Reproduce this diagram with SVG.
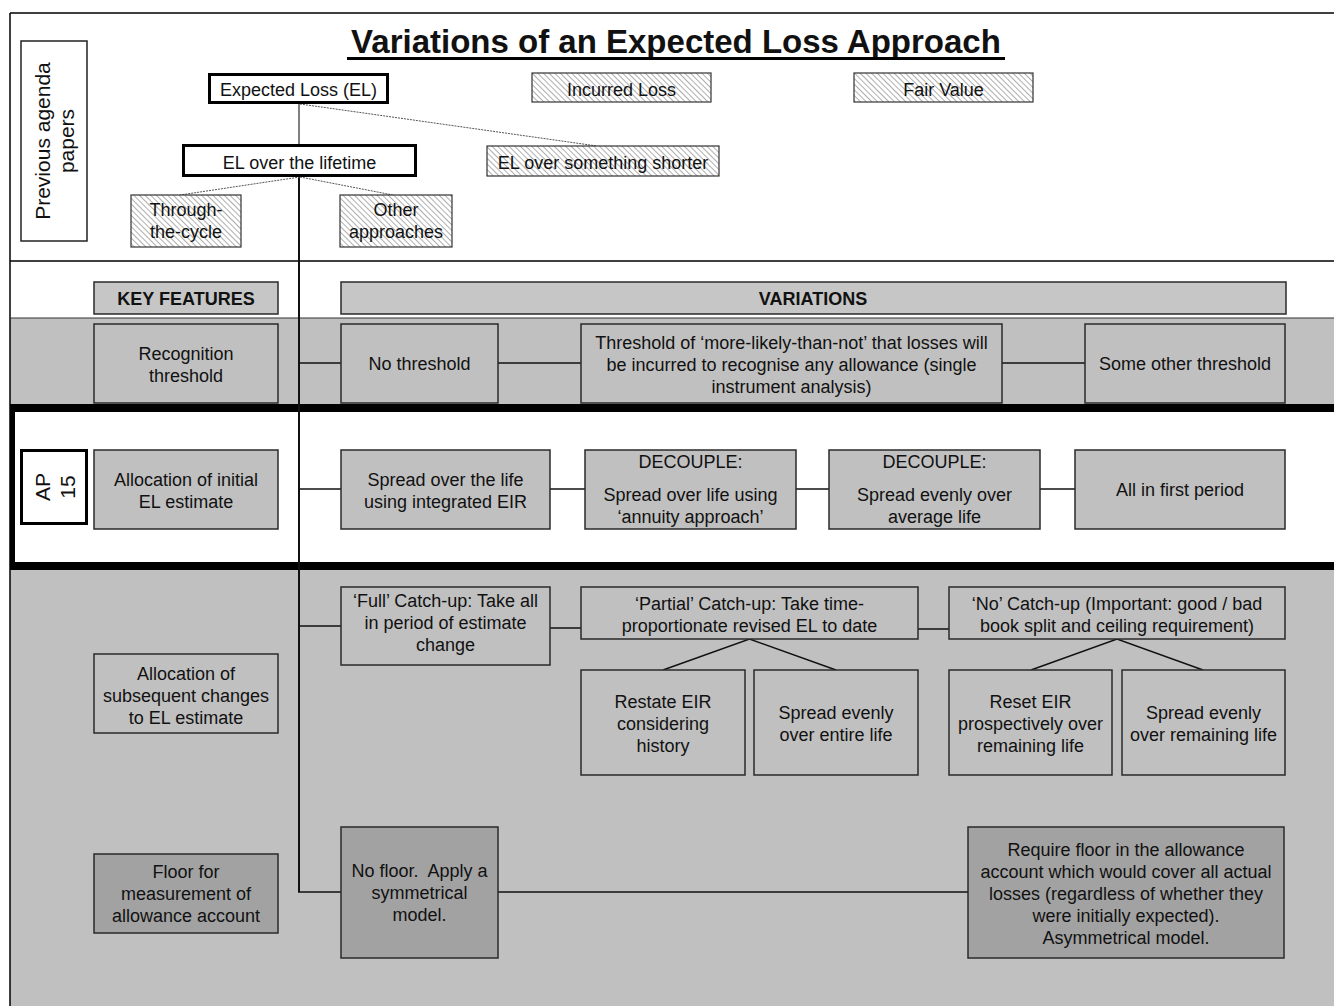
<svg xmlns="http://www.w3.org/2000/svg" width="1334" height="1006" viewBox="0 0 1334 1006">
<style>
text{font-family:"Liberation Sans",Arial,sans-serif;font-size:18px;fill:#111;text-anchor:middle}
.title{font-size:33px;font-weight:bold}
.bold{font-weight:bold}
.rot{font-size:21px}
.box{fill:#c0c0c0;stroke:#2a2a2a;stroke-width:1.5}
.hdr{fill:#c6c6c6;stroke:#2a2a2a;stroke-width:1.5}
.dark{fill:#a2a2a2;stroke:#2a2a2a;stroke-width:1.5}
.thick{fill:#fff;stroke:#000;stroke-width:3}
.plain{fill:#fff;stroke:#222;stroke-width:1.5}
.hatch{fill:url(#hatch);stroke:#333;stroke-width:1.2}
.conn{stroke:#111;stroke-width:1.5;fill:none}
.dot{stroke:#555;stroke-width:1;stroke-dasharray:2 1;fill:none}
</style>
<defs>
<pattern id="hatch" width="4" height="4" patternUnits="userSpaceOnUse" patternTransform="rotate(-45)">
<rect width="4" height="4" fill="#fff"/>
<line x1="0" y1="0" x2="0" y2="4" stroke="#9a9a9a" stroke-width="1.6"/>
</pattern>
</defs>

<!-- backgrounds -->
<rect x="0" y="0" width="1334" height="1006" fill="#fff"/>
<rect x="10" y="318" width="1324" height="86" fill="#c0c0c0"/>
<rect x="10" y="570" width="1324" height="436" fill="#c0c0c0"/>
<line x1="10" y1="13" x2="1334" y2="13" stroke="#000" stroke-width="1.5"/>
<line x1="10" y1="13" x2="10" y2="1006" stroke="#000" stroke-width="1.5"/>
<line x1="10" y1="261" x2="1334" y2="261" stroke="#000" stroke-width="1.5"/>
<line x1="10" y1="318" x2="1334" y2="318" stroke="#333" stroke-width="1.2"/>
<rect x="10" y="404" width="1324" height="8" fill="#000"/>
<rect x="10" y="562" width="1324" height="8" fill="#000"/>
<rect x="10" y="404" width="5" height="166" fill="#000"/>

<!-- title -->
<text class="title" x="676" y="53">Variations of an Expected Loss Approach</text>
<line x1="347" y1="58.5" x2="1005" y2="58.5" stroke="#000" stroke-width="3"/>

<!-- connectors -->
<g id="connectors">
<line class="conn" x1="299" y1="104" x2="299" y2="145" style="stroke:#555"/>
<line class="conn" x1="299" y1="177" x2="299" y2="892" style="stroke-width:2"/>
<line class="conn" x1="298" y1="892" x2="341" y2="892"/>
<path class="dot" d="M300 104 L597 146"/>
<path class="dot" d="M300 177 L180 195"/>
<path class="dot" d="M300 177 L393 195"/>
<line class="conn" x1="299" y1="363" x2="341" y2="363"/>
<line class="conn" x1="498" y1="363" x2="581" y2="363"/>
<line class="conn" x1="1002" y1="363" x2="1085" y2="363"/>
<line class="conn" x1="299" y1="489" x2="341" y2="489"/>
<line class="conn" x1="550" y1="489" x2="585" y2="489"/>
<line class="conn" x1="796" y1="489" x2="829" y2="489"/>
<line class="conn" x1="1040" y1="489" x2="1075" y2="489"/>
<line class="conn" x1="299" y1="626" x2="341" y2="626"/>
<line class="conn" x1="550" y1="628" x2="581" y2="628"/>
<line class="conn" x1="918" y1="629" x2="949" y2="629"/>
<path class="conn" d="M663 670 L749.5 639 L836 670"/>
<path class="conn" d="M1031 670 L1117 639 L1203 670"/>
<line class="conn" x1="498" y1="892" x2="968" y2="892"/>
</g>

<!-- top section -->
<g id="previous-agenda">
<rect class="plain" x="21" y="41" width="66" height="200"/>
<text class="rot" transform="translate(50,141) rotate(-90)">Previous agenda</text>
<text class="rot" transform="translate(74,141) rotate(-90)">papers</text>
</g>
<g id="expected-loss">
<rect class="thick" x="209.5" y="74.5" width="178" height="28"/>
<text x="298.5" y="95.5">Expected Loss (EL)</text>
</g>
<g id="incurred-loss">
<rect class="hatch" x="532" y="73" width="179" height="29"/>
<text x="621.5" y="96">Incurred Loss</text>
</g>
<g id="fair-value">
<rect class="hatch" x="854" y="73" width="179" height="29"/>
<text x="943.5" y="96">Fair Value</text>
</g>
<g id="el-lifetime">
<rect class="thick" x="183.5" y="145.5" width="232" height="30"/>
<text x="299.5" y="169">EL over the lifetime</text>
</g>
<g id="el-shorter">
<rect class="hatch" x="487" y="146" width="232" height="30"/>
<text x="603" y="169">EL over something shorter</text>
</g>
<g id="through-the-cycle">
<rect class="hatch" x="131" y="195" width="110" height="52"/>
<text x="186" y="216">Through-</text>
<text x="186" y="238">the-cycle</text>
</g>
<g id="other-approaches">
<rect class="hatch" x="340" y="195" width="112" height="52"/>
<text x="396" y="216">Other</text>
<text x="396" y="238">approaches</text>
</g>

<!-- headers -->
<g id="key-features">
<rect class="hdr" x="94" y="282" width="184" height="32"/>
<text class="bold" x="186" y="305">KEY FEATURES</text>
</g>
<g id="variations">
<rect class="hdr" x="341" y="282" width="945" height="32"/>
<text class="bold" x="813" y="305">VARIATIONS</text>
</g>

<!-- recognition threshold row -->
<g id="recognition-threshold">
<rect class="box" x="94" y="324" width="184" height="79"/>
<text x="186" y="360">Recognition</text>
<text x="186" y="382">threshold</text>
</g>
<g id="no-threshold">
<rect class="box" x="341" y="324" width="157" height="79"/>
<text x="419.5" y="370">No threshold</text>
</g>
<g id="more-likely-threshold">
<rect class="box" x="581" y="324" width="421" height="79"/>
<text x="791.5" y="349">Threshold of ‘more-likely-than-not’ that losses will</text>
<text x="791.5" y="371">be incurred to recognise any allowance (single</text>
<text x="791.5" y="393">instrument analysis)</text>
</g>
<g id="other-threshold">
<rect class="box" x="1085" y="324" width="200" height="79"/>
<text x="1185" y="370">Some other threshold</text>
</g>

<!-- AP15 row -->
<g id="ap15">
<rect class="thick" x="21.5" y="450.5" width="65" height="73"/>
<text class="rot" transform="translate(50,487) rotate(-90)">AP</text>
<text class="rot" transform="translate(75,487) rotate(-90)">15</text>
</g>
<g id="allocation-initial">
<rect class="box" x="94" y="450" width="184" height="79"/>
<text x="186" y="486">Allocation of initial</text>
<text x="186" y="508">EL estimate</text>
</g>
<g id="spread-eir">
<rect class="box" x="341" y="450" width="209" height="79"/>
<text x="445.5" y="486">Spread over the life</text>
<text x="445.5" y="508">using integrated EIR</text>
</g>
<g id="decouple-annuity">
<rect class="box" x="585" y="450" width="211" height="79"/>
<text x="690.5" y="468">DECOUPLE:</text>
<text x="690.5" y="501">Spread over life using</text>
<text x="690.5" y="523">‘annuity approach’</text>
</g>
<g id="decouple-average">
<rect class="box" x="829" y="450" width="211" height="79"/>
<text x="934.5" y="468">DECOUPLE:</text>
<text x="934.5" y="501">Spread evenly over</text>
<text x="934.5" y="523">average life</text>
</g>
<g id="all-first-period">
<rect class="box" x="1075" y="450" width="210" height="79"/>
<text x="1180" y="496">All in first period</text>
</g>

<!-- subsequent changes -->
<g id="allocation-subsequent">
<rect class="box" x="94" y="654" width="184" height="79"/>
<text x="186" y="680">Allocation of</text>
<text x="186" y="702">subsequent changes</text>
<text x="186" y="724">to EL estimate</text>
</g>
<g id="full-catchup">
<rect class="box" x="341" y="587" width="209" height="78"/>
<text x="445.5" y="607">‘Full’ Catch-up: Take all</text>
<text x="445.5" y="629">in period of estimate</text>
<text x="445.5" y="651">change</text>
</g>
<g id="partial-catchup">
<rect class="box" x="581" y="587" width="337" height="52"/>
<text x="749.5" y="610">‘Partial’ Catch-up: Take time-</text>
<text x="749.5" y="632">proportionate revised EL to date</text>
</g>
<g id="no-catchup">
<rect class="box" x="949" y="587" width="336" height="52"/>
<text x="1117" y="610">‘No’ Catch-up (Important: good / bad</text>
<text x="1117" y="632">book split and ceiling requirement)</text>
</g>
<g id="restate-eir">
<rect class="box" x="581" y="670" width="164" height="105"/>
<text x="663" y="708">Restate EIR</text>
<text x="663" y="730">considering</text>
<text x="663" y="752">history</text>
</g>
<g id="spread-entire">
<rect class="box" x="754" y="670" width="164" height="105"/>
<text x="836" y="719">Spread evenly</text>
<text x="836" y="741">over entire life</text>
</g>
<g id="reset-eir">
<rect class="box" x="949" y="670" width="163" height="105"/>
<text x="1030.5" y="708">Reset EIR</text>
<text x="1030.5" y="730">prospectively over</text>
<text x="1030.5" y="752">remaining life</text>
</g>
<g id="spread-remaining">
<rect class="box" x="1122" y="670" width="163" height="105"/>
<text x="1203.5" y="719">Spread evenly</text>
<text x="1203.5" y="741">over remaining life</text>
</g>

<!-- floor -->
<g id="floor">
<rect class="dark" x="94" y="854" width="184" height="79"/>
<text x="186" y="878">Floor for</text>
<text x="186" y="900">measurement of</text>
<text x="186" y="922">allowance account</text>
</g>
<g id="no-floor">
<rect class="dark" x="341" y="827" width="157" height="131"/>
<text x="419.5" y="877" style="white-space:pre">No floor.  Apply a</text>
<text x="419.5" y="899">symmetrical</text>
<text x="419.5" y="921">model.</text>
</g>
<g id="require-floor">
<rect class="dark" x="968" y="827" width="316" height="131"/>
<text x="1126" y="856">Require floor in the allowance</text>
<text x="1126" y="878">account which would cover all actual</text>
<text x="1126" y="900">losses (regardless of whether they</text>
<text x="1126" y="922">were initially expected).</text>
<text x="1126" y="944">Asymmetrical model.</text>
</g>
</svg>
